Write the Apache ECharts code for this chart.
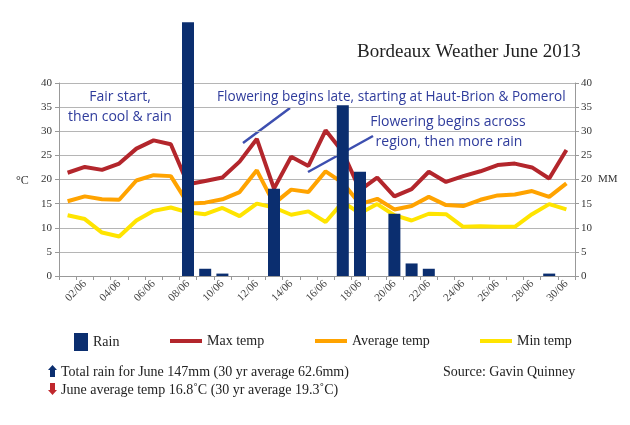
<!DOCTYPE html>
<html><head><meta charset="utf-8">
<script src="https://cdn.jsdelivr.net/npm/echarts@6/dist/echarts.min.js"></script>
<style>html,body{margin:0;padding:0;background:#fff}#c{width:630px;height:425px}</style>
</head><body><div id="c"></div>
<script>
const days = ['01/06','02/06','03/06','04/06','05/06','06/06','07/06','08/06','09/06','10/06','11/06','12/06','13/06','14/06','15/06','16/06','17/06','18/06','19/06','20/06','21/06','22/06','23/06','24/06','25/06','26/06','27/06','28/06','29/06','30/06'];
const rain = [0,0,0,0,0,0,0,52.6,1.5,0.5,0,0,18.1,0,0,0,35.4,21.6,0,12.9,2.6,1.5,0,0,0,0,0,0,0.5,0];
const maxTemp = [21.4,22.6,22.0,23.3,26.4,28.1,27.3,19.0,19.7,20.4,23.7,28.4,18.1,24.7,22.8,30.2,25.7,17.8,20.4,16.5,18.0,21.6,19.5,20.7,21.7,23.0,23.3,22.5,20.2,26.1];
const avgTemp = [15.5,16.5,15.9,15.8,19.8,20.9,20.7,15.0,15.2,15.9,17.4,21.9,15.0,17.9,17.4,21.7,19.3,14.9,16.0,13.8,14.5,16.4,14.7,14.5,15.8,16.7,16.9,17.6,16.4,19.2];
const minTemp = [12.6,11.8,9.0,8.2,11.5,13.5,14.2,13.2,12.8,14.1,12.4,15.0,14.2,12.7,13.4,11.2,15.3,13.0,14.9,12.6,11.5,12.9,12.8,10.2,10.3,10.2,10.2,12.8,14.9,13.8];
const yTicks = {min:0, max:40, interval:5};

const serif = "'Liberation Serif', 'DejaVu Serif', serif";
const hand = "'Open Sans', 'Noto Sans', sans-serif";
const blue = '#2f3c9c';
const chart = echarts.init(document.getElementById('c'));
const legendText = {fontFamily: serif, fontSize: 14, color: '#222'};
chart.setOption({
  animation: false,
  title: {text: 'Bordeaux Weather June 2013', left: 352, top: 38,
    textStyle: {fontFamily: serif, fontSize: 19, fontWeight: 'normal', color: '#222'}},
  grid: {left: 59, right: 55, top: 83, bottom: 149},
  legend: [
    {data: ['Rain'], left: 69, top: 328, icon: 'rect', itemWidth: 14, itemHeight: 18, textStyle: legendText},
    {data: ['Max temp'], left: 165, top: 329, icon: 'rect', itemWidth: 32, itemHeight: 4, textStyle: legendText},
    {data: ['Average temp'], left: 310, top: 329, icon: 'rect', itemWidth: 32, itemHeight: 4, textStyle: legendText},
    {data: ['Min temp'], left: 475, top: 329, icon: 'rect', itemWidth: 32, itemHeight: 4, textStyle: legendText}
  ],
  xAxis: {type: 'category', data: days, boundaryGap: true,
    axisLine: {lineStyle: {color: '#999'}},
    axisTick: {show: true, interval: 0, length: 4, lineStyle: {color: '#999'}},
    axisLabel: {rotate: 45, interval: (i) => i % 2 === 1, fontFamily: serif, fontSize: 11, color: '#444', margin: 6}},
  yAxis: [
    {type: 'value', min: yTicks.min, max: yTicks.max, interval: yTicks.interval,
      axisLine: {show: true, lineStyle: {color: '#999'}},
      axisTick: {show: true, length: 4, lineStyle: {color: '#999'}},
      splitLine: {lineStyle: {color: '#b5b5b5'}},
      axisLabel: {fontFamily: serif, fontSize: 11, color: '#333', margin: 7}},
    {type: 'value', min: yTicks.min, max: yTicks.max, interval: yTicks.interval, position: 'right',
      axisLine: {show: true, lineStyle: {color: '#999'}},
      axisTick: {show: true, length: 4, lineStyle: {color: '#999'}},
      splitLine: {show: false},
      axisLabel: {fontFamily: serif, fontSize: 11, color: '#333', margin: 6}}
  ],
  series: [
    {name: 'Rain', type: 'bar', yAxisIndex: 1, data: rain, barWidth: 12, clip: false, z: 4,
      itemStyle: {color: '#0b2e6f'}},
    {name: 'Max temp', type: 'line', data: maxTemp, symbol: 'none', z: 2,
      itemStyle: {color: '#b3262c'}, lineStyle: {width: 4, color: '#b3262c'}},
    {name: 'Average temp', type: 'line', data: avgTemp, symbol: 'none', z: 2,
      itemStyle: {color: '#ffa300'}, lineStyle: {width: 4, color: '#ffa300'}},
    {name: 'Min temp', type: 'line', data: minTemp, symbol: 'none', z: 2,
      itemStyle: {color: '#ffe400'}, lineStyle: {width: 4, color: '#ffe400'}}
  ],
  graphic: [
    {type: 'text', left: 16, top: 175, style: {text: '°C', fontFamily: serif, fontSize: 12, fill: '#333'}},
    {type: 'text', left: 598, top: 174, style: {text: 'MM', fontFamily: serif, fontSize: 11, fill: '#333'}},
    {type: 'text', x: 120, y: 97, style: {text: 'Fair start,', fontFamily: hand, fontSize: 14, fill: blue, align: 'center', verticalAlign: 'middle'}},
    {type: 'text', x: 120, y: 117, style: {text: 'then cool & rain', fontFamily: hand, fontSize: 14, fill: blue, align: 'center', verticalAlign: 'middle'}},
    {type: 'text', x: 217, y: 97, style: {text: 'Flowering begins late, starting at Haut-Brion & Pomerol', fontFamily: hand, fontSize: 13.6, fill: blue, verticalAlign: 'middle'}},
    {type: 'text', x: 448, y: 122, style: {text: 'Flowering begins across', fontFamily: hand, fontSize: 14, fill: blue, align: 'center', verticalAlign: 'middle'}},
    {type: 'text', x: 449, y: 142, style: {text: 'region, then more rain', fontFamily: hand, fontSize: 14, fill: blue, align: 'center', verticalAlign: 'middle'}},
    {type: 'line', shape: {x1: 243, y1: 143, x2: 290, y2: 108}, style: {stroke: '#3d4fb0', lineWidth: 2.5}},
    {type: 'line', shape: {x1: 308, y1: 172, x2: 373, y2: 136}, style: {stroke: '#3d4fb0', lineWidth: 2.5}},
    {type: 'polygon', shape: {points: [[52.5,365],[57,370],[55,370],[55,377],[50,377],[50,370],[48,370]]}, style: {fill: '#0b2e6f'}},
    {type: 'polygon', shape: {points: [[50,383],[55,383],[55,390],[57,390],[52.5,395],[48,390],[50,390]]}, style: {fill: '#c0282d'}},
    {type: 'text', x: 61, y: 372, style: {text: 'Total rain for June 147mm (30 yr average 62.6mm)', fontFamily: serif, fontSize: 14, fill: '#222', verticalAlign: 'middle'}},
    {type: 'text', x: 61, y: 390, style: {text: 'June average temp 16.8˚C (30 yr average 19.3˚C)', fontFamily: serif, fontSize: 14, fill: '#222', verticalAlign: 'middle'}},
    {type: 'text', x: 443, y: 372, style: {text: 'Source: Gavin Quinney', fontFamily: serif, fontSize: 14, fill: '#222', verticalAlign: 'middle'}}
  ]
});
</script></body></html>
